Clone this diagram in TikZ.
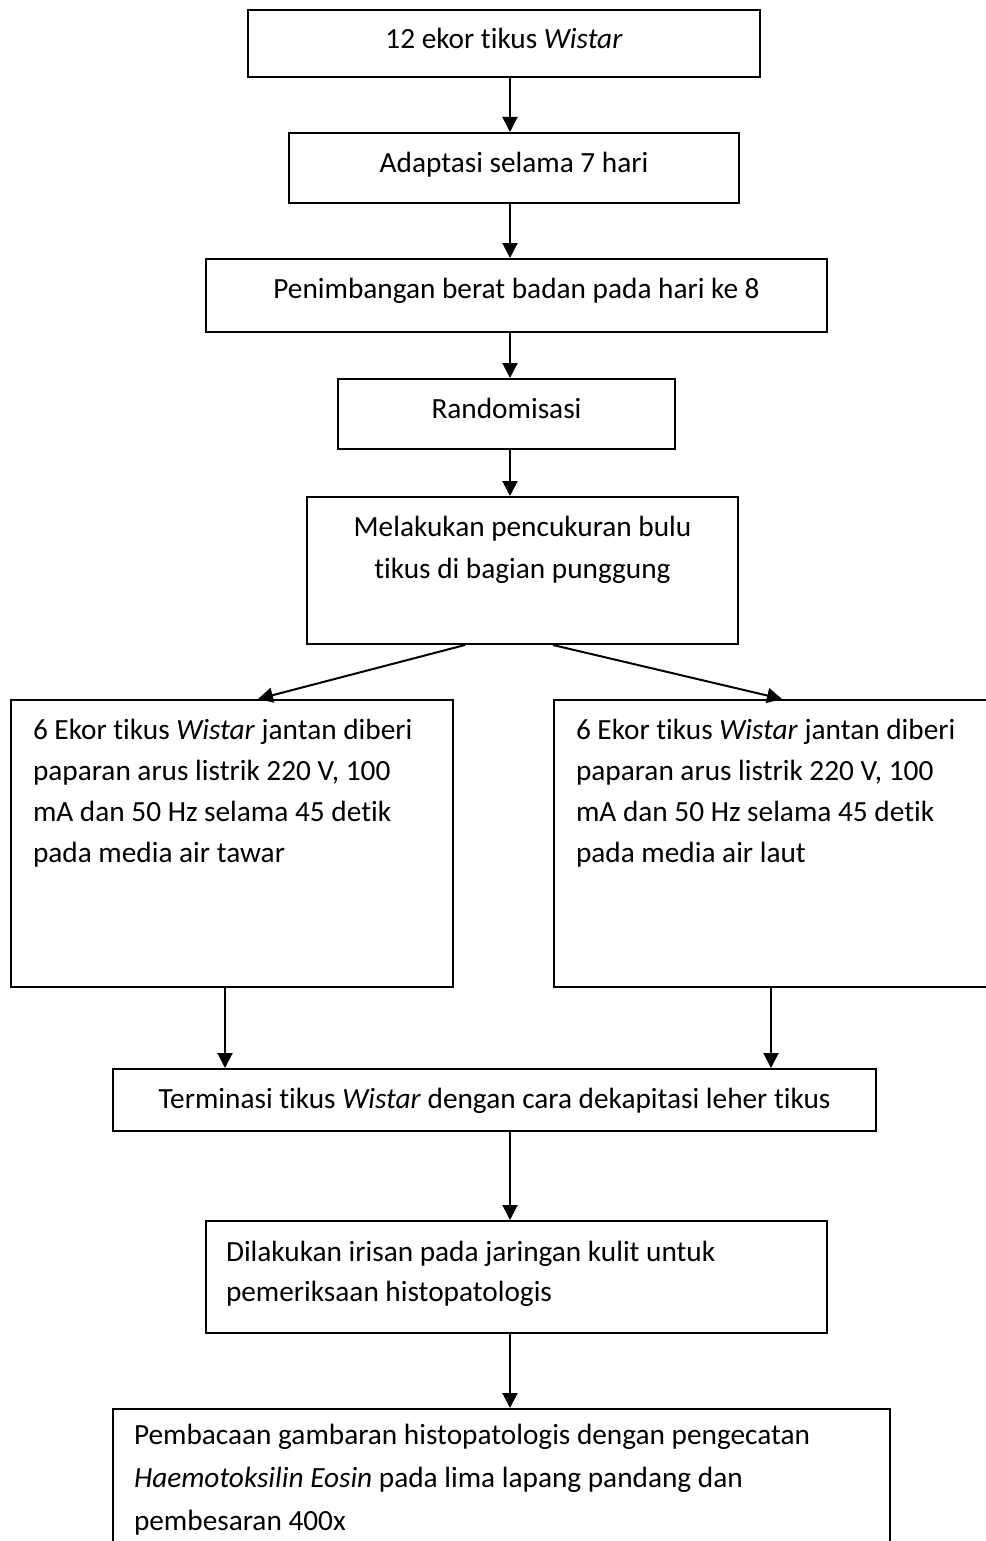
\documentclass[tikz,border=0pt]{standalone}
\usepackage{fontspec}
\setmainfont{Carlito}[Ligatures={NoCommon,NoRare,NoContextual}]
\usetikzlibrary{arrows.meta}
\newlength\px
\setlength\px{0.5pt}
% #1 width, #2 height, #3 first baseline from top, #4 line spacing, #5 alignment, #6 text
\newcommand\boxtext[6]{\parbox[c][#2\px][t]{#1\px}{#5\setlength\baselineskip{#4\px}\rule{0pt}{#3\px}#6\par}}
\begin{document}
\begin{tikzpicture}[x=0.5pt,y=-0.5pt,
  box/.style={draw, line width=1pt, anchor=north west, inner sep=0pt,
    font=\fontsize{14.65pt}{20pt}\selectfont},
  arr/.style={line width=1pt, -{Triangle[length=7.5pt,width=7.5pt]}}]
\useasboundingbox (0,0) rectangle (985,1541);

\node[box] (b1) at (247,9) {\boxtext{512}{67}{39}{40}{\centering}{12 ekor tikus \textit{Wistar}}};
\node[box] (b2) at (288,132) {\boxtext{450}{70}{39}{40}{\centering}{Adaptasi selama 7 hari}};
\node[box] (b3) at (205,258) {\boxtext{621}{73}{39}{40}{\centering}{Penimbangan berat badan pada hari ke 8}};
\node[box] (b4) at (337,378) {\boxtext{337}{70}{39}{40}{\centering}{Randomisasi}};
\node[box] (b5) at (306,496) {\boxtext{431}{147}{39}{42}{\centering}{Melakukan pencukuran bulu\\ tikus di bagian punggung}};
\node[box, inner xsep=11pt] (b6) at (10,699) {\boxtext{398}{287}{39}{41}{\raggedright}{6 Ekor tikus \textit{Wistar} jantan diberi\\ paparan arus listrik 220 V, 100\\ mA dan 50 Hz selama 45 detik\\ pada media air tawar}};
\node[box, inner xsep=11pt] (b7) at (553,699) {\boxtext{406}{287}{39}{41}{\raggedright}{6 Ekor tikus \textit{Wistar} jantan diberi\\ paparan arus listrik 220 V, 100\\ mA dan 50 Hz selama 45 detik\\ pada media air laut}};
\node[box] (b8) at (112,1068) {\boxtext{763}{62}{39}{40}{\centering}{Terminasi tikus \textit{Wistar} dengan cara dekapitasi leher tikus}};
\node[box, inner xsep=10pt] (b9) at (205,1220) {\boxtext{581}{112}{40}{40}{\raggedright}{Dilakukan irisan pada jaringan kulit untuk\\ pemeriksaan histopatologis}};
\node[box, inner xsep=10.5pt] (b10) at (112,1408) {\boxtext{735}{200}{35}{43}{\raggedright}{Pembacaan gambaran histopatologis dengan pengecatan\\ \textit{Haemotoksilin Eosin} pada lima lapang pandang dan\\ pembesaran 400x}};

\coordinate (ax) at (510,0);
\coordinate (dl) at (465,0);
\coordinate (dr) at (553,0);
\coordinate (tl) at (258,0);
\coordinate (tr) at (782,0);
\coordinate (cl) at (225,0);
\coordinate (cr) at (771,0);

\draw[arr] (b1.south -| ax) -- (b2.north -| ax);
\draw[arr] (b2.south -| ax) -- (b3.north -| ax);
\draw[arr] (b3.south -| ax) -- (b4.north -| ax);
\draw[arr] (b4.south -| ax) -- (b5.north -| ax);
\draw[arr] (b5.south -| dl) -- (b6.north -| tl);
\draw[arr] (b5.south -| dr) -- (b7.north -| tr);
\draw[arr] (b6.south -| cl) -- (b8.north -| cl);
\draw[arr] (b7.south -| cr) -- (b8.north -| cr);
\draw[arr] (b8.south -| ax) -- (b9.north -| ax);
\draw[arr] (b9.south -| ax) -- (b10.north -| ax);
\end{tikzpicture}
\end{document}
